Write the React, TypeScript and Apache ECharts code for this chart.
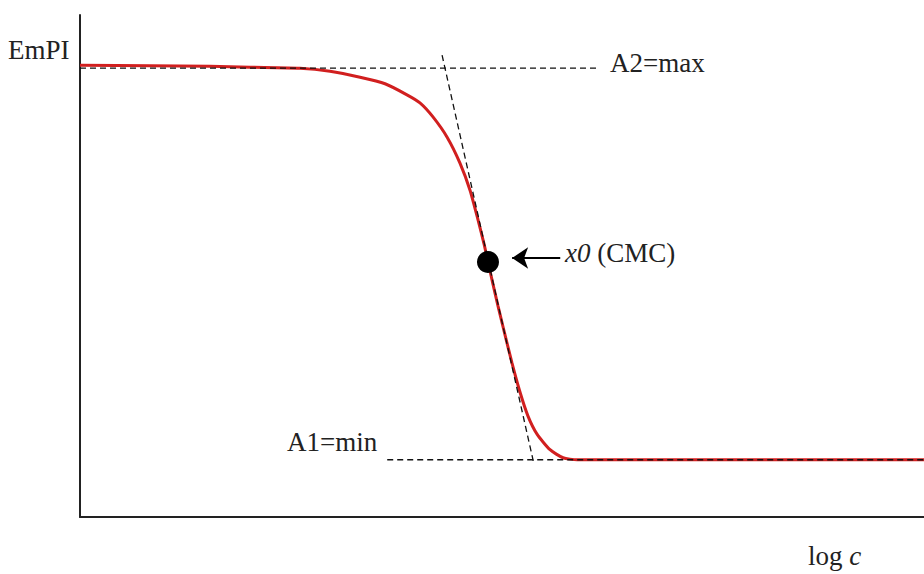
import React, { useEffect, useRef } from "react";
import * as echarts from "echarts";

// Sigmoidal EmPI vs. log c curve (Boltzmann-type), values in axis units
const logC = [0, 0.829, 1.54, 2.014, 2.607, 2.962, 3.318, 3.614, 3.874, 4.028, 4.182, 4.348, 4.502, 4.621, 4.716, 4.787, 4.834, 4.893, 4.953, 5.012, 5.118, 5.213, 5.308, 5.415, 5.569, 5.723, 5.889, 6.754, 10];
const empi = [90.0, 89.9, 89.8, 89.6, 89.4, 88.8, 87.6, 86.3, 84.1, 82.5, 79.7, 75.7, 70.5, 65.1, 59.2, 54.4, 50.8, 46.4, 42.0, 37.9, 30.7, 24.9, 20.1, 16.5, 13.4, 11.8, 11.4, 11.4, 11.4];

// Plateaus and inflection point
const a2Max = 89.4;
const a1Min = 11.4;
const a2Span = [0, 6.13];
const a1Span = [3.64, 10];
const x0 = [4.834, 50.8];
// Tangent through the inflection point
const tangentX = [4.29, 5.37];
const tangentY = [92.0, 11.2];
// Pointer towards x0
const arrowX = [5.69, 5.12];
const arrowY = 51.6;

const SERIF = "'Liberation Serif', 'Times New Roman', serif";

export default function App() {
  const ref = useRef<HTMLDivElement>(null);

  useEffect(() => {
    if (!ref.current) return;
    const chart = echarts.init(ref.current, undefined, { renderer: "svg" });
    const dashed = { color: "#111", width: 1.3, type: [6, 4] as number[] };
    const axisCommon = {
      type: "value" as const,
      axisLine: { show: true, onZero: false, lineStyle: { color: "#222", width: 2 } },
      axisTick: { show: false },
      axisLabel: { show: false },
      splitLine: { show: false },
    };
    const richItalic = { i: { fontStyle: "italic", fontFamily: SERIF, fontSize: 27, fill: "#222" } };
    chart.setOption({
      animation: false,
      backgroundColor: "#fff",
      grid: { left: 80, right: 0, top: 15, bottom: 57 },
      xAxis: { ...axisCommon, min: 0, max: 10 },
      yAxis: { ...axisCommon, min: 0, max: 100 },
      series: [
        {
          type: "line",
          data: [[a2Span[0], a2Max], [a2Span[1], a2Max]],
          symbol: "none",
          lineStyle: dashed,
          z: 3,
        },
        {
          type: "line",
          data: [[a1Span[0], a1Min], [a1Span[1], a1Min]],
          symbol: "none",
          lineStyle: dashed,
          z: 3,
        },
        {
          type: "line",
          data: tangentX.map((x, i) => [x, tangentY[i]]),
          symbol: "none",
          lineStyle: dashed,
          z: 3,
        },
        {
          type: "line",
          data: logC.map((x, i) => [x, empi[i]]),
          symbol: "none",
          smooth: 0.2,
          lineStyle: { color: "#d11f1f", width: 3 },
          z: 2,
        },
        {
          type: "scatter",
          data: [x0],
          symbol: "circle",
          symbolSize: 22,
          itemStyle: { color: "#000", opacity: 1 },
          z: 5,
          markLine: {
            silent: true,
            symbol: ["none", "arrow"],
            symbolSize: 16,
            label: { show: false },
            lineStyle: { color: "#000", width: 2, type: "solid" },
            data: [[{ coord: [arrowX[0], arrowY] }, { coord: [arrowX[1], arrowY] }]],
          },
        },
      ],
      graphic: [
        {
          type: "text",
          left: 8,
          top: 36,
          style: { text: "EmPI", font: `27px ${SERIF}`, fill: "#222" },
        },
        {
          type: "text",
          left: 610,
          top: 49,
          style: { text: "A2=max", font: `27px ${SERIF}`, fill: "#222" },
        },
        {
          type: "text",
          left: 287,
          top: 428,
          style: { text: "A1=min", font: `27px ${SERIF}`, fill: "#222" },
        },
        {
          type: "text",
          left: 565,
          top: 239,
          style: { text: "{i|x0} (CMC)", font: `27px ${SERIF}`, fill: "#222", rich: richItalic },
        },
        {
          type: "text",
          left: 808,
          top: 542,
          style: { text: "log {i|c}", font: `27px ${SERIF}`, fill: "#222", rich: richItalic },
        },
      ],
    });
    return () => chart.dispose();
  }, []);

  return (
    <div
      ref={ref}
      style={{ position: "fixed", left: 0, top: 0, width: 924, height: 574, background: "#fff" }}
    />
  );
}
